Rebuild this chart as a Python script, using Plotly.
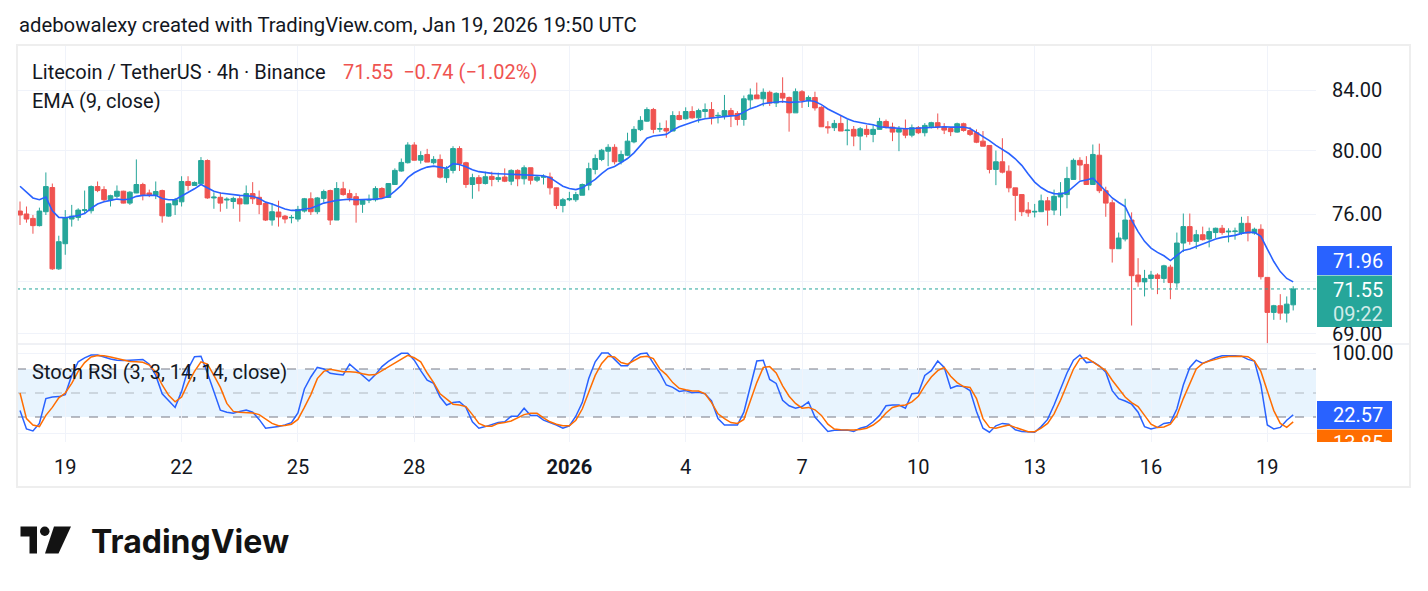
import math
import pandas as pd
import plotly.graph_objects as go

# ---------------- data ----------------
bar_times = pd.date_range("2025-12-17 20:00", periods=198, freq="4h")

opens = [76.19, 76.01, 75.74, 75.30, 76.15, 77.65, 72.72, 74.21, 75.70, 75.80,
 76.22, 76.21, 77.71, 77.52, 76.89, 77.10, 77.42, 76.68, 77.31, 77.84,
 77.31, 77.16, 77.46, 75.88, 76.57, 76.76, 78.03, 77.78, 77.88, 79.36,
 77.00, 77.04, 76.87, 76.78, 76.95, 76.63, 77.27, 77.04, 76.66, 75.64,
 76.13, 75.88, 75.78, 75.70, 76.19, 76.95, 76.15, 76.97, 77.46, 75.64,
 77.57, 77.27, 77.08, 76.61, 76.87, 76.89, 77.59, 77.03, 77.84, 78.69,
 79.22, 80.36, 79.38, 79.75, 79.22, 79.43, 78.27, 78.73, 80.13, 79.22,
 77.84, 78.27, 77.90, 78.35, 78.16, 78.31, 78.05, 78.73, 78.20, 78.90,
 78.11, 78.30, 78.31, 77.63, 76.53, 76.89, 76.89, 77.17, 77.80, 78.79,
 79.43, 79.96, 80.21, 79.28, 79.70, 80.56, 81.36, 81.92, 82.69, 81.40,
 81.44, 81.27, 82.29, 82.08, 82.56, 82.14, 82.56, 82.69, 82.27, 82.25,
 82.62, 82.43, 82.03, 83.34, 83.67, 83.41, 83.85, 83.13, 83.78, 83.50,
 82.47, 83.89, 83.28, 83.50, 82.84, 81.55, 81.49, 81.77, 81.30, 81.38,
 80.94, 81.38, 81.05, 81.38, 81.90, 81.53, 81.20, 81.38, 81.00, 81.49,
 81.16, 81.55, 81.82, 81.53, 81.44, 81.20, 81.75, 81.31, 81.16, 80.61,
 80.33, 78.79, 79.28, 78.68, 77.63, 77.21, 76.25, 76.13, 76.15, 76.82,
 76.25, 77.06, 77.21, 78.16, 79.37, 79.11, 77.84, 79.70, 77.45, 76.70,
 73.91, 74.49, 75.64, 72.36, 71.96, 72.16, 72.36, 72.16, 72.82, 71.90,
 74.25, 75.24, 74.35, 74.75, 74.49, 74.88, 75.14, 74.92, 74.94, 74.85,
 75.44, 74.85, 75.08, 72.22, 70.21, 70.59, 70.17, 70.64]

highs = [76.78, 76.47, 75.95, 76.40, 78.60, 77.90, 74.69, 76.25, 76.57, 76.36,
 77.46, 77.78, 78.03, 77.73, 77.20, 77.78, 77.45, 77.42, 79.43, 77.95,
 77.52, 78.03, 77.52, 76.68, 77.00, 78.36, 78.36, 78.03, 79.58, 79.43,
 77.35, 77.35, 77.04, 77.08, 77.16, 77.78, 77.99, 77.46, 76.68, 76.68,
 76.83, 75.95, 75.95, 76.51, 77.00, 77.35, 77.06, 77.52, 77.52, 77.99,
 78.01, 77.52, 77.31, 76.93, 77.21, 77.73, 77.67, 77.92, 78.86, 79.49,
 80.54, 80.54, 79.96, 80.11, 79.64, 79.75, 79.00, 80.28, 80.28, 79.28,
 78.52, 78.43, 78.65, 78.65, 78.59, 78.86, 78.80, 78.80, 79.05, 78.90,
 78.43, 78.48, 78.59, 77.63, 77.00, 77.38, 77.38, 77.90, 79.22, 79.75,
 80.11, 80.41, 80.41, 80.00, 81.16, 81.59, 82.25, 82.84, 82.80, 81.82,
 81.97, 82.58, 82.58, 82.84, 82.91, 82.75, 83.10, 83.19, 82.51, 83.67,
 82.80, 82.58, 83.63, 84.11, 84.51, 84.11, 83.96, 83.85, 84.87, 83.56,
 84.11, 84.00, 83.63, 83.89, 82.91, 81.92, 82.00, 82.29, 82.03, 81.60,
 81.53, 81.66, 81.66, 82.14, 82.03, 81.82, 81.60, 82.03, 81.70, 81.60,
 81.79, 81.88, 82.43, 81.79, 81.53, 81.82, 81.82, 81.53, 81.38, 81.27,
 80.33, 80.00, 80.80, 79.05, 77.63, 77.21, 76.74, 76.63, 77.21, 77.06,
 77.52, 77.99, 78.96, 79.49, 79.57, 79.64, 80.39, 80.45, 77.70, 76.90,
 74.88, 76.95, 76.11, 73.35, 72.66, 72.60, 72.46, 72.96, 72.96, 74.88,
 76.04, 76.04, 75.04, 75.24, 75.18, 75.18, 75.34, 75.14, 75.18, 75.84,
 75.88, 75.18, 75.38, 72.22, 70.64, 71.25, 71.12, 71.71]

lows = [75.34, 75.48, 74.81, 75.25, 75.95, 72.66, 72.66, 73.55, 75.24, 75.60,
 76.04, 76.04, 77.36, 76.78, 76.47, 76.99, 76.66, 76.57, 77.30, 76.85,
 77.05, 76.93, 75.48, 75.84, 75.95, 76.47, 77.46, 77.78, 77.88, 76.95,
 76.33, 76.15, 76.33, 76.33, 75.54, 76.63, 76.63, 76.00, 75.58, 75.30,
 75.24, 75.44, 75.44, 75.54, 76.10, 75.95, 76.00, 76.72, 75.34, 75.64,
 77.14, 76.78, 75.48, 76.08, 76.68, 76.78, 76.95, 77.00, 77.82, 78.65,
 79.17, 79.36, 79.16, 79.26, 79.11, 78.22, 77.95, 78.54, 78.69, 77.63,
 76.95, 77.41, 77.84, 77.73, 77.99, 77.99, 77.80, 77.73, 77.84, 77.84,
 77.99, 77.84, 77.21, 76.32, 76.11, 76.80, 76.76, 77.17, 77.48, 78.48,
 79.32, 79.00, 79.11, 79.11, 79.64, 80.47, 81.27, 81.88, 81.12, 81.20,
 80.83, 81.27, 81.97, 82.03, 82.08, 81.82, 82.14, 81.70, 81.77, 82.03,
 81.53, 81.64, 81.62, 82.73, 83.41, 82.91, 82.93, 82.86, 83.13, 81.23,
 82.47, 82.80, 82.86, 82.62, 81.55, 81.10, 81.27, 81.27, 80.34, 80.28,
 80.02, 80.86, 80.54, 81.36, 81.44, 80.61, 79.96, 80.80, 80.86, 81.07,
 80.92, 81.44, 81.38, 81.07, 80.94, 81.16, 81.23, 80.94, 80.48, 80.28,
 78.54, 77.80, 78.54, 77.35, 75.60, 75.88, 75.84, 75.80, 76.13, 75.30,
 75.94, 75.90, 76.36, 78.16, 78.10, 77.84, 77.84, 77.30, 75.84, 73.09,
 73.91, 74.35, 69.47, 71.68, 71.12, 71.59, 71.25, 71.90, 70.96, 71.62,
 73.71, 74.15, 73.89, 74.40, 73.99, 74.55, 74.75, 74.29, 74.45, 74.75,
 74.35, 74.75, 72.10, 68.49, 69.79, 69.79, 69.64, 70.32]

closes = [75.95, 75.70, 75.30, 76.19, 77.71, 72.72, 74.33, 75.78, 75.88, 76.25,
 76.27, 77.71, 77.46, 76.89, 77.14, 77.42, 76.68, 77.36, 77.84, 77.20,
 77.20, 77.40, 75.90, 76.64, 76.89, 78.03, 77.78, 77.97, 79.36, 77.00,
 77.05, 76.68, 76.92, 76.97, 76.63, 77.27, 76.95, 76.59, 75.64, 76.15,
 75.83, 75.70, 75.80, 76.29, 76.95, 76.15, 77.00, 77.40, 75.64, 77.59,
 77.21, 77.00, 76.57, 76.87, 76.89, 77.59, 77.03, 77.90, 78.73, 79.24,
 80.36, 79.38, 79.68, 79.26, 79.43, 78.30, 78.79, 80.13, 79.17, 77.84,
 78.27, 77.90, 78.33, 78.16, 78.27, 78.05, 78.73, 78.20, 78.90, 78.11,
 78.31, 78.33, 77.63, 76.53, 76.89, 76.95, 77.21, 77.84, 78.84, 79.49,
 80.02, 80.21, 79.28, 79.75, 80.61, 81.38, 81.97, 82.69, 81.38, 81.42,
 81.27, 82.29, 82.03, 82.56, 82.14, 82.62, 82.69, 82.14, 82.30, 82.62,
 82.31, 82.03, 83.41, 83.67, 83.41, 83.85, 83.13, 83.78, 83.46, 82.47,
 83.89, 83.30, 83.50, 82.80, 81.55, 81.49, 81.77, 81.27, 81.33, 80.94,
 81.42, 81.05, 81.38, 81.90, 81.53, 81.20, 81.38, 81.00, 81.49, 81.16,
 81.64, 81.82, 81.53, 81.33, 81.23, 81.75, 81.31, 81.05, 80.54, 80.28,
 78.79, 79.28, 78.62, 77.63, 77.16, 76.15, 76.08, 76.17, 76.82, 76.25,
 77.10, 77.31, 78.22, 79.37, 79.07, 77.84, 79.75, 77.45, 76.68, 73.91,
 74.55, 75.64, 72.32, 71.96, 72.16, 72.36, 72.16, 72.90, 71.92, 74.25,
 75.24, 74.35, 74.75, 74.45, 74.94, 75.14, 74.88, 74.96, 74.97, 75.44,
 74.85, 75.08, 72.26, 70.21, 70.59, 70.17, 70.68, 71.55]

ema9 = [77.73, 77.35, 77.00, 76.89, 77.06, 76.21, 75.80, 75.78, 75.84, 75.92,
 76.04, 76.36, 76.62, 76.76, 76.85, 76.93, 76.89, 76.93, 77.10, 77.16,
 77.16, 77.16, 76.97, 76.89, 76.89, 77.10, 77.31, 77.57, 77.84, 77.63,
 77.42, 77.31, 77.25, 77.21, 77.16, 77.14, 77.10, 76.97, 76.74, 76.62,
 76.46, 76.32, 76.23, 76.23, 76.32, 76.36, 76.51, 76.68, 76.76, 76.85,
 76.89, 76.93, 76.89, 76.89, 76.89, 76.93, 76.97, 77.10, 77.42, 77.78,
 78.27, 78.58, 78.79, 78.94, 79.00, 78.94, 78.86, 79.16, 79.11, 78.96,
 78.77, 78.65, 78.58, 78.54, 78.52, 78.50, 78.48, 78.48, 78.48, 78.46,
 78.43, 78.39, 78.27, 78.01, 77.73, 77.59, 77.52, 77.63, 77.88, 78.16,
 78.52, 78.84, 78.98, 79.22, 79.49, 79.85, 80.33, 80.80, 80.95, 81.01,
 81.05, 81.33, 81.55, 81.70, 81.86, 81.99, 82.08, 82.14, 82.18, 82.25,
 82.27, 82.29, 82.51, 82.75, 82.90, 83.08, 83.15, 83.19, 83.23, 83.17,
 83.17, 83.21, 83.30, 83.23, 83.02, 82.73, 82.51, 82.29, 82.08, 81.92,
 81.82, 81.75, 81.68, 81.55, 81.51, 81.47, 81.44, 81.42, 81.44, 81.47,
 81.49, 81.53, 81.55, 81.55, 81.53, 81.55, 81.53, 81.44, 81.18, 80.95,
 80.64, 80.33, 80.07, 79.81, 79.47, 79.05, 78.50, 77.99, 77.65, 77.40,
 77.27, 77.25, 77.35, 77.69, 78.05, 78.12, 78.24, 77.84, 77.42, 77.00,
 76.72, 76.46, 75.64, 74.94, 74.35, 73.95, 73.69, 73.49, 73.21, 73.49,
 73.81, 73.89, 74.05, 74.21, 74.35, 74.49, 74.59, 74.65, 74.71, 74.83,
 74.89, 74.89, 74.65, 73.89, 73.15, 72.56, 72.16, 71.96]

stoch_k = [28, 5, 2.5, 12, 43, 45, 45.5, 48, 72, 89,
 94, 97.5, 97.5, 95, 92.5, 91, 90.5, 91, 91.5, 92,
 86, 72, 49, 40, 32, 52, 80, 95.4, 96, 75,
 51, 28.5, 26, 24.6, 27, 28.75, 26, 17, 6, 7,
 8, 10, 13, 25, 55, 70, 82, 80, 74.6, 73.5,
 72.5, 86, 79, 71, 65, 73, 83, 89.5, 95, 99.6,
 99.6, 91, 78, 66, 62, 45, 35, 38, 39, 32,
 14, 6, 8, 11, 13, 14, 21, 21, 31, 22,
 22, 16, 13, 10, 6, 9, 21, 38, 68, 89,
 100, 100, 92, 84, 84, 94, 99, 100, 87, 75,
 60, 57, 52, 53, 50.4, 51, 49, 40, 18, 10,
 10, 10, 26, 60, 90, 91, 67, 62, 41, 34,
 31, 33, 39, 20, 11, 2, 3.5, 3.75, 3.75, 2,
 6, 8, 14, 22, 34, 35, 35, 31, 49, 50,
 72, 78, 90, 82, 56, 59, 58, 53, 27, 6,
 1, 9, 12, 11, 4, 2, 1.5, 1, 8, 17,
 35, 55, 75, 91, 97.5, 88, 89, 84, 76, 53,
 43, 40, 36, 26, 8, 5, 7, 12, 13, 30,
 60, 82, 91, 87, 91, 94, 96.5, 96.7, 96.7, 96,
 92, 90, 60, 10, 5, 7, 16, 22.57]

stoch_d = [50, 18, 10, 8, 22, 32, 44, 50, 62, 77,
 88, 95, 97, 96.5, 95, 93.3, 91, 89.5, 89.2, 88.5,
 85, 76, 60, 47, 39, 45, 62, 77, 89, 86,
 72, 57, 37, 27, 26, 25.5, 25, 23, 17, 12,
 9, 9.5, 11, 17, 32, 48, 68, 77, 79.6, 78,
 76.7, 76.7, 76, 74, 72.5, 73, 78, 83, 88, 92,
 97, 94, 89, 75, 63, 49, 42, 36, 35, 33,
 23, 12, 8.5, 8.5, 12, 13, 15, 19, 23, 24.6,
 24.6, 19, 14, 11, 9, 9, 16, 30, 50, 72,
 87, 96, 95, 88, 86, 90, 95, 96, 93, 80,
 73, 63, 56, 54, 52.5, 52.5, 49, 38, 24, 18,
 13, 12, 17, 40, 63, 82, 83, 75, 59, 46,
 37, 31, 32, 29, 22, 11, 5, 4, 3.75, 3.75,
 4.5, 6, 10, 16, 25, 32, 34, 35, 39, 46,
 59, 70, 78, 82, 71, 63, 58, 57, 43, 18,
 7, 6, 8, 10, 7, 4, 1.7, 1.7, 6, 12,
 24, 41, 60, 80, 93, 94, 89, 84, 78, 66,
 55, 45, 38, 33, 22, 11, 7, 7.5, 11, 22,
 43, 62, 80, 87, 90, 92, 94.5, 95.5, 96, 96,
 95.4, 90, 77, 52, 28, 12, 7, 13.85]

tick_dates = ["2025-12-19", "2025-12-22", "2025-12-25", "2025-12-28", "2026-01-01",
              "2026-01-04", "2026-01-07", "2026-01-10", "2026-01-13", "2026-01-16",
              "2026-01-19"]
tick_labels = ["19", "22", "25", "28", "<b>2026</b>", "4", "7", "10", "13", "16", "19"]
price_ticks = [69, 72, 76, 80, 84]
price_tick_labels = ["69.00", "", "76.00", "80.00", "84.00"]

# ---------------- styling ----------------
GREEN = "#26A69A"
RED = "#EF5350"
BLUE = "#2962FF"
ORANGE = "#FF6D00"
TXT = "#131722"
GRID = "#F0F3FA"
FONT = "Roboto"

W, H = 1428, 591
PL, PR, PT, PB = 17, 1316, 46, 442     # plot area in page pixels
SPLIT = 344                              # pane separator


def px(x):
    return (x - PL) / (PR - PL)


def py(y):
    return (PB - y) / (PB - PT)


fig = go.Figure()

fig.add_trace(go.Candlestick(
    x=bar_times, open=opens, high=highs, low=lows, close=closes,
    increasing=dict(line=dict(color=GREEN, width=1), fillcolor=GREEN),
    decreasing=dict(line=dict(color=RED, width=1), fillcolor=RED),
    whiskerwidth=0, xaxis="x", yaxis="y", showlegend=False, hoverinfo="skip"))

fig.add_trace(go.Scatter(
    x=bar_times, y=ema9, mode="lines", line=dict(color=BLUE, width=1.6),
    xaxis="x", yaxis="y", showlegend=False, hoverinfo="skip"))

# last price dotted line
fig.add_trace(go.Scatter(
    x=[pd.Timestamp("2025-12-17 18:08"), pd.Timestamp("2026-01-20 06:07")],
    y=[closes[-1], closes[-1]], mode="lines",
    line=dict(color=GREEN, width=1, dash="dot"),
    xaxis="x", yaxis="y", showlegend=False, hoverinfo="skip"))

fig.add_trace(go.Scatter(
    x=bar_times, y=stoch_k, mode="lines", line=dict(color=BLUE, width=1.5),
    xaxis="x", yaxis="y2", showlegend=False, hoverinfo="skip"))
fig.add_trace(go.Scatter(
    x=bar_times, y=stoch_d, mode="lines", line=dict(color=ORANGE, width=1.5),
    xaxis="x", yaxis="y2", showlegend=False, hoverinfo="skip"))

split_frac = (PB - SPLIT) / (PB - PT)

shapes = [
    # stoch band + levels
    dict(type="rect", xref="x domain", yref="y2", x0=0, x1=1, y0=20, y1=80,
         fillcolor="rgba(33,150,243,0.1)", line=dict(width=0), layer="below"),
    dict(type="line", xref="x domain", yref="y2", x0=0, x1=1, y0=80, y1=80,
         line=dict(color="#787B86", width=1, dash="dash"), layer="below"),
    dict(type="line", xref="x domain", yref="y2", x0=0, x1=1, y0=50, y1=50,
         line=dict(color="rgba(120,123,134,0.5)", width=1, dash="dash"), layer="below"),
    dict(type="line", xref="x domain", yref="y2", x0=0, x1=1, y0=20, y1=20,
         line=dict(color="#787B86", width=1, dash="dash"), layer="below"),
    # pane separator
    dict(type="line", xref="paper", yref="paper", x0=px(17), x1=px(1410),
         y0=split_frac, y1=split_frac, line=dict(color="#E0E3EB", width=1)),
    # outer chart frame
    dict(type="rect", xref="paper", yref="paper", x0=px(17), x1=px(1410),
         y0=py(45), y1=py(487), line=dict(color="#EEEEEE", width=2)),
    # value tags
    dict(type="rect", xref="paper", yref="paper", x0=px(1317), x1=px(1392),
         y0=py(246), y1=py(275), fillcolor=BLUE, line=dict(width=0)),
    dict(type="rect", xref="paper", yref="paper", x0=px(1317), x1=px(1392),
         y0=py(275.5), y1=py(327), fillcolor=GREEN, line=dict(width=0)),
    dict(type="rect", xref="paper", yref="paper", x0=px(1317), x1=px(1392),
         y0=py(401), y1=py(429), fillcolor=BLUE, line=dict(width=0)),
    dict(type="rect", xref="paper", yref="paper", x0=px(1317), x1=px(1392),
         y0=py(429.5), y1=py(442), fillcolor=ORANGE, line=dict(width=0)),
    # TradingView logo mark
    dict(type="path", xref="paper", yref="paper",
         path="M{},{} L{},{} L{},{} L{},{} L{},{} L{},{} Z".format(
             px(20.5), py(526.5), px(37), py(526.5), px(37), py(553.5),
             px(29.5), py(553.5), px(29.5), py(536.5), px(20.5), py(536.5)),
         fillcolor="#131313", line=dict(width=0)),
    dict(type="circle", xref="paper", yref="paper",
         x0=px(40), x1=px(49.5), y0=py(526.5), y1=py(536),
         fillcolor="#131313", line=dict(width=0)),
    dict(type="path", xref="paper", yref="paper",
         path="M{},{} L{},{} L{},{} L{},{} Z".format(
             px(54), py(526.5), px(71), py(526.5), px(58.5), py(553.5),
             px(45), py(553.5)),
         fillcolor="#131313", line=dict(width=0)),
]


def ann(text, x, y, size=20, color=TXT, xanchor="left", yanchor="middle", **kw):
    return dict(text=text, x=px(x), y=py(y), xref="paper", yref="paper",
                xanchor=xanchor, yanchor=yanchor, showarrow=False,
                font=dict(family=FONT, size=size, color=color), **kw)


annotations = [
    ann("adebowalexy created with TradingView.com, Jan 19, 2026 19:50 UTC", 17, 25, size=20.3),
    ann("Litecoin / TetherUS · 4h · Binance", 30, 72),
    ann("71.55  −0.74 (−1.02%)", 341, 72, color=RED),
    ann("EMA (9, close)", 30, 101),
    ann("Stoch RSI (3, 3, 14, 14, close)", 30, 372),
    ann("71.96", 1331, 261, color="white"),
    ann("71.55", 1331, 290, color="white"),
    ann("09:22", 1331, 314, color="rgba(255,255,255,0.8)"),
    ann("22.57", 1331, 415, color="white"),
    ann("13.85", 1331, 443, color="white"),
    dict(text=" ", x=px(1316), y=py(443), xref="paper", yref="paper",
         xanchor="left", yanchor="top", showarrow=False, bgcolor="white",
         width=80, height=14, font=dict(size=10)),
    dict(text="TradingView", x=px(89), y=py(541), xref="paper", yref="paper",
         xanchor="left", yanchor="middle", showarrow=False,
         font=dict(family="Inter", size=32, color="#131313", weight=700)),
]

fig.update_layout(
    width=W, height=H, autosize=False,
    margin=dict(l=PL, r=W - PR, t=PT, b=H - PB, autoexpand=False),
    paper_bgcolor="white", plot_bgcolor="white",
    hovermode=False, showlegend=False,
    boxgap=0.15, boxgroupgap=0.15,
    xaxis=dict(
        type="date", anchor="y2", domain=[0, 1],
        range=["2025-12-17 18:08", "2026-01-20 06:07"],
        rangeslider=dict(visible=False),
        tickmode="array", tickvals=tick_dates, ticktext=tick_labels,
        showgrid=True, gridcolor=GRID, gridwidth=1,
        zeroline=False, showline=False, ticks="",
        tickfont=dict(family=FONT, size=20, color=TXT),
        ticklabelstandoff=11,
    ),
    yaxis=dict(
        type="log", domain=[split_frac, 1], anchor="x", side="right",
        range=[math.log10(68.443), math.log10(87.04)],
        tickmode="array", tickvals=price_ticks, ticktext=price_tick_labels,
        showgrid=True, gridcolor=GRID, gridwidth=1,
        zeroline=False, showline=False, ticks="",
        tickfont=dict(family=FONT, size=20, color=TXT),
        ticklabelstandoff=15,
    ),
    yaxis2=dict(
        domain=[0, split_frac], anchor="x", side="right",
        range=[-11.25, 111.25],
        tickmode="array", tickvals=[0, 100], ticktext=["", "100.00"],
        showgrid=True, gridcolor=GRID, gridwidth=1,
        zeroline=False, showline=False, ticks="",
        tickfont=dict(family=FONT, size=20, color=TXT),
        ticklabelstandoff=15,
    ),
    shapes=shapes,
    annotations=annotations,
)

fig.write_html("out.html", config={"displayModeBar": False})
